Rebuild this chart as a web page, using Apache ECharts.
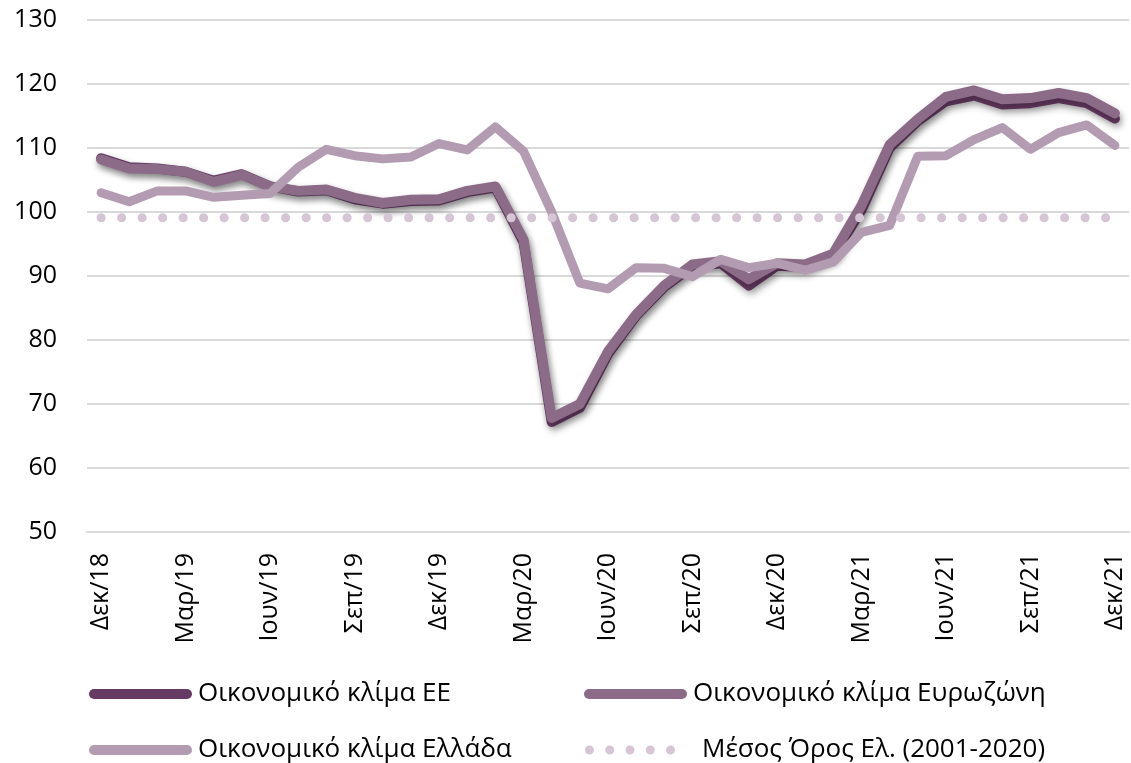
<!DOCTYPE html>
<html>
<head>
<meta charset="utf-8">
<script src="https://cdn.jsdelivr.net/npm/echarts@6/dist/echarts.min.js"></script>
<style>
  html, body { margin: 0; padding: 0; background: #fff; }
  #chart { width: 1131px; height: 763px; }
</style>
</head>
<body>
<div id="chart"></div>
<script>
var months = [
  "Δεκ/18", "Ιαν/19", "Φεβ/19", "Μαρ/19", "Απρ/19", "Μαϊ/19", "Ιουν/19", "Ιουλ/19", "Αυγ/19", "Σεπ/19", "Οκτ/19", "Νοε/19",
  "Δεκ/19", "Ιαν/20", "Φεβ/20", "Μαρ/20", "Απρ/20", "Μαϊ/20", "Ιουν/20", "Ιουλ/20", "Αυγ/20", "Σεπ/20", "Οκτ/20", "Νοε/20",
  "Δεκ/20", "Ιαν/21", "Φεβ/21", "Μαρ/21", "Απρ/21", "Μαϊ/21", "Ιουν/21", "Ιουλ/21", "Αυγ/21", "Σεπ/21", "Οκτ/21", "Νοε/21",
  "Δεκ/21"
];
var climateEU = [
  108.4, 107.0, 106.8, 106.3, 104.9, 105.9, 104.0, 103.2, 103.4, 102.0, 101.3, 101.7,
  101.8, 103.1, 103.8, 95.3, 67.2, 69.4, 77.8, 83.8, 88.3, 91.5, 92.0, 88.5,
  91.6, 91.4, 93.2, 100.3, 110.0, 114.2, 117.3, 118.2, 116.8, 117.0, 117.8, 117.0,
  114.6
];
var climateEZ = [
  108.2, 106.8, 106.7, 106.3, 104.7, 105.8, 104.0, 103.3, 103.5, 102.2, 101.4, 101.9,
  102.0, 103.3, 104.0, 95.7, 67.8, 70.0, 78.2, 84.0, 88.5, 91.8, 92.3, 89.5,
  92.0, 91.8, 93.5, 101.0, 110.5, 114.5, 118.0, 119.0, 117.6, 117.8, 118.6, 117.8,
  115.4
];
var climateGR = [
  103.0, 101.6, 103.3, 103.3, 102.3, 102.6, 102.9, 107.0, 109.8, 108.8, 108.3, 108.6,
  110.7, 109.7, 113.3, 109.5, 100.0, 88.9, 88.0, 91.3, 91.2, 89.9, 92.6, 91.3,
  92.0, 90.9, 92.2, 96.8, 97.9, 108.7, 108.8, 111.3, 113.2, 109.8, 112.4, 113.6,
  110.4
];
var meanGR = [
  99.1, 99.1, 99.1, 99.1, 99.1, 99.1, 99.1, 99.1, 99.1, 99.1, 99.1, 99.1,
  99.1, 99.1, 99.1, 99.1, 99.1, 99.1, 99.1, 99.1, 99.1, 99.1, 99.1, 99.1,
  99.1, 99.1, 99.1, 99.1, 99.1, 99.1, 99.1, 99.1, 99.1, 99.1, 99.1, 99.1,
  99.1
];
var names = [
  "Οικονομικό κλίμα ΕΕ",
  "Οικονομικό κλίμα Ευρωζώνη",
  "Οικονομικό κλίμα Ελλάδα",
  "Μέσος Όρος Ελ. (2001-2020)"
];
var colors = ["#673a63", "#8c6b89", "#b39cb2", "#d6c6d5"];

var barIcon = "path://M5,0 L98,0 A5,5 0 0 1 98,10 L5,10 A5,5 0 0 1 5,0 Z";
var dotIcon = "path://" + [4.5, 24.75, 45, 65.25, 85.5].map(function (cx) {
  return "M" + (cx - 4.5) + ",4.5 A4.5,4.5 0 1 0 " + (cx + 4.5) + ",4.5 A4.5,4.5 0 1 0 " + (cx - 4.5) + ",4.5 Z";
}).join(" ");

function makeLegend(name, left, top, icon, w, h, pad) {
  return {
    data: [name],
    left: left,
    top: top,
    padding: 0,
    icon: icon,
    itemWidth: w,
    itemHeight: h,
    symbolKeepAspect: false,
    selectedMode: false,
    textStyle: { fontSize: 26, color: "#000", fontFamily: "Open Sans", padding: [0, 0, 0, pad] }
  };
}

function shadowLine(color, width) {
  return {
    color: color,
    width: width,
    cap: "round",
    join: "round",
    shadowColor: "rgba(0,0,0,0.3)",
    shadowBlur: 7,
    shadowOffsetX: 2,
    shadowOffsetY: 4
  };
}

var option = {
  animation: false,
  textStyle: { fontFamily: "Open Sans" },
  grid: { left: 87, right: 2, top: 20, bottom: 231, containLabel: false },
  legend: [
    makeLegend(names[0], 89, 681, barIcon, 103, 10, 1),
    makeLegend(names[1], 584, 681, barIcon, 103, 10, 1),
    makeLegend(names[2], 89, 737, barIcon, 103, 10, 1),
    makeLegend(names[3], 585, 737, dotIcon, 90, 9, 22)
  ],
  xAxis: {
    type: "category",
    data: months,
    boundaryGap: true,
    axisTick: { show: false },
    axisLine: { lineStyle: { color: "#d9d9d9", width: 2 } },
    axisLabel: { rotate: 90, interval: 2, margin: 21, fontSize: 25, color: "#000" }
  },
  yAxis: {
    type: "value",
    min: 50,
    max: 130,
    interval: 10,
    axisLine: { show: false },
    axisTick: { show: false },
    axisLabel: { fontSize: 25, color: "#000", margin: 30 },
    splitLine: { lineStyle: { color: "#d9d9d9", width: 2 } }
  },
  series: [
    {
      name: names[0],
      type: "line",
      data: climateEU,
      showSymbol: false,
      itemStyle: { color: colors[0] },
      lineStyle: shadowLine(colors[0], 10)
    },
    {
      name: names[1],
      type: "line",
      data: climateEZ,
      showSymbol: false,
      itemStyle: { color: colors[1] },
      lineStyle: shadowLine(colors[1], 10)
    },
    {
      name: names[2],
      type: "line",
      data: climateGR,
      showSymbol: false,
      itemStyle: { color: colors[2] },
      lineStyle: { color: colors[2], width: 9, cap: "round", join: "round" }
    },
    {
      name: names[3],
      type: "line",
      data: meanGR,
      showSymbol: false,
      itemStyle: { color: colors[3] },
      lineStyle: { color: colors[3], width: 9, cap: "round", type: [0.1, 20.4] }
    }
  ]
};

var myChart = echarts.init(document.getElementById("chart"));
myChart.setOption(option);
</script>
</body>
</html>
